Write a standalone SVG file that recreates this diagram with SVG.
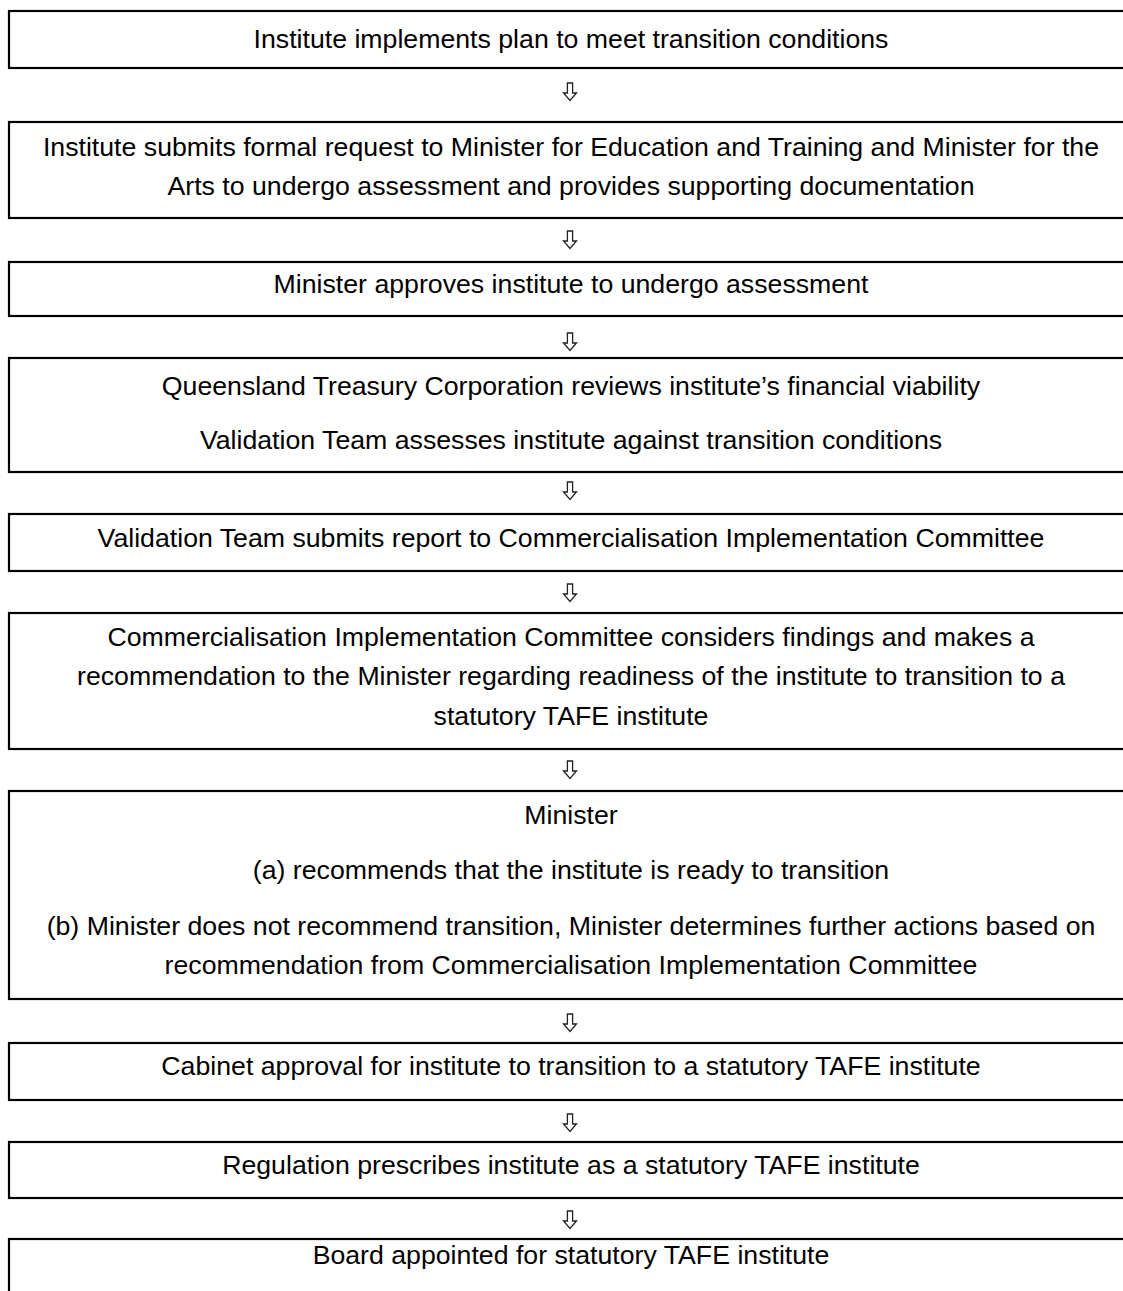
<svg xmlns="http://www.w3.org/2000/svg" width="1123" height="1291" viewBox="0 0 1123 1291">
<style>
.box{fill:#fff;stroke:#000;stroke-width:2.2}
.t{font-family:"Liberation Sans",Arial,sans-serif;font-size:26.7px;fill:#000;text-anchor:middle}
.arr{fill:#fff;stroke:#222;stroke-width:1.3;stroke-linejoin:miter}
</style>
<defs>
<path id="dn" class="arr" d="M-2.6,-9 H2.6 V1 H6.5 L0,8.5 L-6.5,1 H-2.6 Z"/>
</defs>
<rect width="1123" height="1291" fill="#fff"/>
<g id="n1"><rect class="box" x="9" y="11" width="1124" height="57"/><text class="t" x="571" y="48">Institute implements plan to meet transition conditions</text></g>
<g id="n2"><rect class="box" x="9" y="122" width="1124" height="96"/><text class="t" x="571" y="156">Institute submits formal request to Minister for Education and Training and Minister for the</text><text class="t" x="571" y="195">Arts to undergo assessment and provides supporting documentation</text></g>
<g id="n3"><rect class="box" x="9" y="262" width="1124" height="54"/><text class="t" x="571" y="293">Minister approves institute to undergo assessment</text></g>
<g id="n4"><rect class="box" x="9" y="358" width="1124" height="114"/><text class="t" x="571" y="395">Queensland Treasury Corporation reviews institute’s financial viability</text><text class="t" x="571" y="449">Validation Team assesses institute against transition conditions</text></g>
<g id="n5"><rect class="box" x="9" y="514" width="1124" height="57"/><text class="t" x="571" y="547">Validation Team submits report to Commercialisation Implementation Committee</text></g>
<g id="n6"><rect class="box" x="9" y="613" width="1124" height="136"/><text class="t" x="571" y="646">Commercialisation Implementation Committee considers findings and makes a</text><text class="t" x="571" y="685">recommendation to the Minister regarding readiness of the institute to transition to a</text><text class="t" x="571" y="725">statutory TAFE institute</text></g>
<g id="n7"><rect class="box" x="9" y="791" width="1124" height="208"/><text class="t" x="571" y="824">Minister</text><text class="t" x="571" y="879">(a) recommends that the institute is ready to transition</text><text class="t" x="571" y="935">(b) Minister does not recommend transition, Minister determines further actions based on</text><text class="t" x="571" y="974">recommendation from Commercialisation Implementation Committee</text></g>
<g id="n8"><rect class="box" x="9" y="1043" width="1124" height="57"/><text class="t" x="571" y="1075">Cabinet approval for institute to transition to a statutory TAFE institute</text></g>
<g id="n9"><rect class="box" x="9" y="1142" width="1124" height="56"/><text class="t" x="571" y="1174">Regulation prescribes institute as a statutory TAFE institute</text></g>
<g id="n10"><rect class="box" x="9" y="1239" width="1124" height="80"/><text class="t" x="571" y="1264">Board appointed for statutory TAFE institute</text></g>
<g id="connectors">
<use href="#dn" x="570" y="92"/>
<use href="#dn" x="570" y="240"/>
<use href="#dn" x="570" y="342"/>
<use href="#dn" x="570" y="491"/>
<use href="#dn" x="570" y="593"/>
<use href="#dn" x="570" y="770"/>
<use href="#dn" x="570" y="1023"/>
<use href="#dn" x="570" y="1123"/>
<use href="#dn" x="570" y="1220"/>
</g>
</svg>
